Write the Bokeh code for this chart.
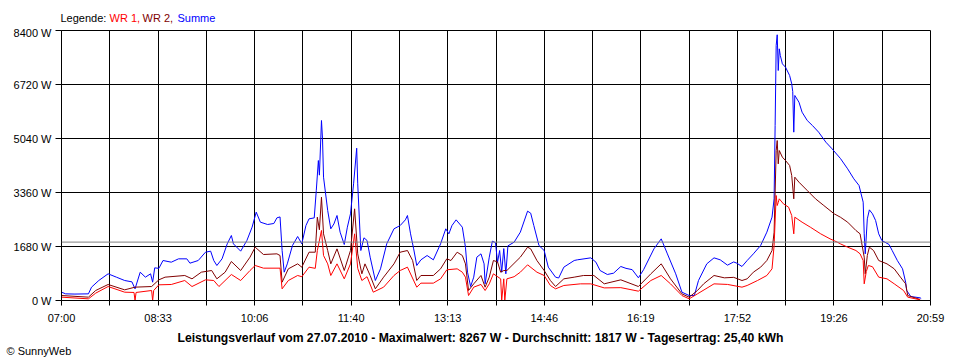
from bokeh.plotting import figure
from bokeh.layouts import column
from bokeh.models import (Range1d, FixedTicker, CustomJSTickFormatter, PrintfTickFormatter, Span)
from bokeh.core.properties import value
from bokeh.embed import file_html
from bokeh.resources import INLINE

# ---------------- data ----------------
x_tick_labels = ["07:00", "08:33", "10:06", "11:40", "13:13", "14:46", "16:19", "17:52", "19:26", "20:59"]
y_ticks = [0, 1680, 3360, 5040, 6720, 8400]
average_w = 1817
legend_texts = ["Legende:", "WR 1,", "WR 2,", "Summe"]
title_text = "Leistungsverlauf vom 27.07.2010 - Maximalwert: 8267 W - Durchschnitt: 1817 W - Tagesertrag: 25,40 kWh"
credit_text = "\u00a9 SunnyWeb"

summe_t = ["07:00","07:04","07:13","07:26","07:29","07:36","07:45","07:53","08:01","08:08","08:11","08:16",
           "08:21","08:26","08:28","08:30","08:34","08:38","08:46","08:53","09:01","09:04","09:12","09:19",
           "09:24","09:27","09:30","09:35","09:40","09:44","09:46","09:53","09:59","10:04","10:08","10:12",
           "10:19","10:25","10:28","10:31","10:33","10:35","10:38","10:43","10:48","10:52","10:56","10:59",
           "11:04","11:06","11:08","11:09","11:11","11:12","11:13","11:17","11:20","11:23","11:26","11:29",
           "11:33","11:36","11:39","11:42","11:45","11:46","11:49","11:52","11:55","11:58","12:03","12:08",
           "12:14","12:21","12:27","12:32","12:34","12:37","12:40","12:43","12:47","12:53","12:59","13:06",
           "13:11","13:14","13:17","13:21","13:27","13:30","13:32","13:35","13:38","13:41","13:45","13:48",
           "13:49","13:53","13:56","13:59","14:01","14:03","14:05","14:07","14:09","14:11","14:17","14:23",
           "14:30","14:33","14:36","14:41","14:46","14:50","14:57","15:00","15:05","15:15","15:18","15:31",
           "15:36","15:40","15:47","15:53","16:00","16:05","16:11","16:17","16:22","16:32","16:39","16:45",
           "16:53","16:59","17:06","17:11","17:15","17:23","17:30","17:36","17:43","17:49","17:52","17:57",
           "18:02","18:08","18:15","18:21","18:26","18:28","18:29","18:30","18:31","18:32","18:33","18:34",
           "18:36","18:39","18:43","18:45","18:46","18:47","18:48","18:52","18:55","19:00","19:05","19:11",
           "19:18","19:24","19:32","19:39","19:45","19:50","19:52","19:54","19:55","19:56","19:58","20:00",
           "20:03","20:06","20:09","20:12","20:19","20:22","20:27","20:32","20:35","20:36","20:40","20:49",
           "20:50"]
summe_w = [259,207,200,207,415,622,830,726,622,580,363,881,
           726,830,570,1016,1000,1244,1192,1296,1296,1161,1244,1503,
           1535,1244,1089,1296,1763,2022,1763,1535,1867,2281,2748,2437,
           2364,2396,2572,2600,1555,881,1140,1711,1991,1763,2333,2540,
           2570,3422,4355,3900,5600,5040,3837,2800,2230,2381,2644,2126,
           1742,2281,2696,3630,4738,3630,1555,1950,1867,1348,622,985,
           1763,2230,2333,2509,2644,2074,1607,1089,1265,1400,1265,1763,
           2230,2074,2333,2509,2281,1659,881,435,726,1348,1452,1140,
           519,1348,1846,1800,1192,1555,881,1615,830,1700,1815,2126,
           2780,2716,2333,1711,1555,1037,726,700,1037,1244,1265,1327,
           1192,933,809,850,1058,1000,960,705,960,1607,1918,1450,
           830,259,155,155,622,1140,1327,1265,1100,1200,1160,1058,
           1244,1452,1711,2126,2592,3163,5444,7933,8267,7155,7830,7622,
           7363,7259,7000,6741,6500,5237,6378,6170,5859,5600,5444,5237,
           4925,4718,4420,4096,3785,3578,3318,3059,2074,1452,2540,2820,
           2696,2489,2074,1867,1742,1555,1244,985,570,311,124,83,
           60]

wr2_t = ["07:00","07:26","07:33","07:45","08:01","08:11","08:27","08:34","08:40","08:59","09:06","09:15",
         "09:25","09:30","09:38","09:44","09:53","10:02","10:07","10:15","10:28","10:31","10:33","10:39",
         "10:48","10:52","10:59","11:05","11:07","11:09","11:11","11:13","11:17","11:20","11:26","11:33",
         "11:39","11:43","11:46","11:50","11:53","11:58","12:03","12:11","12:21","12:27","12:34","12:39",
         "12:43","12:47","12:59","13:06","13:12","13:16","13:22","13:27","13:30","13:33","13:38","13:45",
         "13:49","13:53","13:57","14:01","14:04","14:07","14:10","14:23","14:30","14:33","14:39","14:46",
         "14:52","14:57","15:05","15:15","15:24","15:34","15:44","16:00","16:17","16:29","16:39","16:48",
         "16:59","17:06","17:14","17:20","17:30","17:40","17:49","17:57","18:02","18:08","18:15","18:21",
         "18:26","18:28","18:29","18:30","18:31","18:32","18:33","18:36","18:39","18:43","18:45","18:47",
         "18:48","18:52","19:00","19:08","19:16","19:26","19:32","19:39","19:47","19:51","19:55","19:56",
         "19:58","20:00","20:04","20:09","20:17","20:24","20:30","20:35","20:37","20:49"]
wr2_w = [155,104,311,498,332,415,435,643,726,778,674,881,
         933,674,881,1213,933,1348,1659,1431,1452,1400,570,985,
         1140,1037,1503,1503,2592,2200,3215,2074,1555,1140,1607,933,
         1555,2852,1450,830,1140,778,363,726,1140,1503,1555,1244,
         622,778,778,985,1296,1244,1503,1400,1140,311,518,778,
         415,726,1244,1200,881,933,933,1348,1659,1607,1244,933,
         622,435,674,726,778,778,519,643,435,830,1140,674,
         207,104,311,518,778,705,720,622,674,881,1037,1244,
         1555,2126,3370,4666,4977,4251,4666,4459,4355,4200,3889,3163,
         3837,3681,3422,3163,2955,2696,2592,2437,2178,2074,1348,830,
         1400,1659,1555,1244,1140,985,726,519,155,31]

wr1_t = ["07:00","07:26","07:33","07:45","08:01","08:10","08:11","08:12","08:27","08:28","08:29","08:34",
         "08:46","08:59","09:06","09:19","09:27","09:32","09:44","09:53","10:02","10:07","10:15","10:31",
         "10:33","10:39","10:48","10:52","10:59","11:05","11:07","11:11","11:13","11:17","11:20","11:26",
         "11:33","11:39","11:43","11:46","11:50","11:55","12:01","12:11","12:21","12:27","12:34","12:43",
         "12:47","12:59","13:06","13:12","13:22","13:27","13:30","13:33","13:38","13:45","13:49","13:53",
         "13:57","14:04","14:05","14:07","14:08","14:10","14:17","14:23","14:30","14:39","14:46","14:52",
         "14:57","15:05","15:21","15:31","15:44","16:00","16:17","16:29","16:39","16:48","16:59","17:06",
         "17:14","17:30","17:43","17:57","18:02","18:12","18:21","18:26","18:28","18:30","18:31","18:32",
         "18:33","18:37","18:42","18:45","18:47","18:48","18:55","19:03","19:13","19:22","19:29","19:32",
         "19:39","19:47","19:51","19:54","19:55","19:57","19:59","20:03","20:09","20:17","20:24","20:33",
         "20:37","20:49"]
wr1_w = [104,52,228,435,259,250,0,250,311,0,311,488,
         498,622,435,643,622,435,809,622,933,1089,1006,1006,
         363,622,778,740,1037,1000,1555,2178,1400,1140,778,1140,
         674,1140,2074,1000,622,740,259,415,778,933,1037,415,
         540,540,674,955,985,881,726,155,415,500,311,518,
         830,674,0,674,0,674,740,881,1110,881,778,467,
         363,467,518,518,392,400,290,622,778,518,155,52,
         207,518,500,415,467,622,778,985,1711,3266,2955,3050,
         3163,3007,2903,2644,2074,2592,2437,2281,2074,1918,1815,1763,
         1659,1555,1452,1244,519,900,1089,1050,726,674,519,311,
         104,20]

assert len(summe_t) == len(summe_w)
assert len(wr2_t) == len(wr2_w)
assert len(wr1_t) == len(wr1_w)

FONT = "Liberation Sans"
W = 960


def to_min(s):
    h, m = s.split(":")
    return int(h) * 60 + int(m)


x_start = to_min(x_tick_labels[0])
x_end = to_min(x_tick_labels[-1])
n_grid = 2 * (len(x_tick_labels) - 1)
grid_pos = [x_start + k * (x_end - x_start) / n_grid for k in range(n_grid + 1)]
grid_labels = [x_tick_labels[k // 2] if k % 2 == 0 else "" for k in range(n_grid + 1)]


def text_strip(height):
    f = figure(width=W, height=height, output_backend="svg", toolbar_location=None, tools="",
               x_range=Range1d(0, W), y_range=Range1d(0, height),
               x_axis_type=None, y_axis_type=None, min_border=0, frame_align=False)
    f.min_border_left = 0
    f.min_border_right = 0
    f.min_border_top = 0
    f.min_border_bottom = 0
    f.outline_line_color = None
    f.xgrid.visible = False
    f.ygrid.visible = False
    f.background_fill_color = "white"
    f.border_fill_color = "white"
    return f


# ---- legend strip (top) ----
top = text_strip(26)
top.text(x=[60, 109, 142, 177], y=[9, 9, 9, 9], text=legend_texts,
         text_color=["black", "#FF0000", "#800000", "#0000FF"],
         text_font=value(FONT), text_font_size=value("11px"), text_baseline="alphabetic")

# ---- main chart ----
p = figure(width=W, height=300, output_backend="svg", toolbar_location=None, tools="",
           x_range=Range1d(x_start, x_end), y_range=Range1d(0, y_ticks[-1]),
           min_border_left=61, min_border_right=30, min_border_top=4, min_border_bottom=26,
           frame_align=False)
p.background_fill_color = "white"
p.border_fill_color = "white"
p.outline_line_color = "black"
p.outline_line_width = 1

xt = FixedTicker(ticks=grid_pos)
yt = FixedTicker(ticks=y_ticks)
p.xaxis.ticker = xt
p.yaxis.ticker = yt
p.xgrid.ticker = xt
p.ygrid.ticker = yt
for g in (p.xgrid, p.ygrid):
    g.grid_line_color = "black"
    g.grid_line_alpha = 1.0
    g.grid_line_width = 1

p.xaxis.formatter = CustomJSTickFormatter(args=dict(pos=grid_pos, labels=grid_labels), code="""
let best = 0, d = 1e9;
for (let i = 0; i < pos.length; i++) { const e = Math.abs(pos[i] - tick); if (e < d) { d = e; best = i; } }
return labels[best];
""")
p.yaxis.formatter = PrintfTickFormatter(format="%d W")

for ax in (p.xaxis, p.yaxis):
    ax.axis_line_color = "black"
    ax.major_tick_line_color = "black"
    ax.minor_tick_line_color = None
    ax.major_tick_in = 0
    ax.major_label_text_font = FONT
    ax.major_label_text_font_size = "11px"
    ax.major_label_text_color = "black"
p.xaxis.major_tick_out = 5
p.xaxis.major_label_standoff = 6
p.yaxis.major_tick_out = 6
p.yaxis.major_label_standoff = 4

p.add_layout(Span(location=average_w, dimension="width", line_color="#808080", line_width=1))

p.line([to_min(t) for t in summe_t], summe_w, line_color="#0000FF", line_width=1)
p.line([to_min(t) for t in wr2_t], wr2_w, line_color="#800000", line_width=1)
p.line([to_min(t) for t in wr1_t], wr1_w, line_color="#FF0000", line_width=1)

# ---- bottom strip: title and credit ----
bottom = text_strip(34)
bottom.text(x=[480], y=[23], text=[title_text], text_color="black", text_align="center",
            text_font=value(FONT), text_font_size=value("12.2px"), text_font_style="bold",
            text_baseline="alphabetic")
bottom.text(x=[6], y=[10], text=[credit_text], text_color="black",
            text_font=value(FONT), text_font_size=value("11px"), text_baseline="alphabetic")

layout = column(top, p, bottom, spacing=0)
open("out.html", "w").write(file_html(layout, INLINE))
